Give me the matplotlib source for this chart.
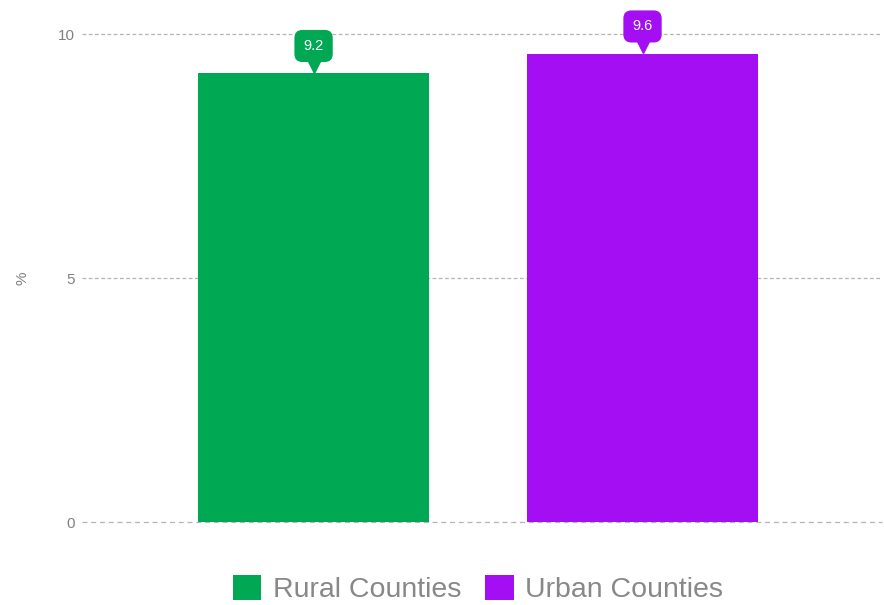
import matplotlib.pyplot as plt
from matplotlib.patches import Patch
from matplotlib.transforms import offset_copy

plt.rcParams['font.family'] = ['Liberation Sans', 'DejaVu Sans']

categories = ['Rural Counties', 'Urban Counties']
values = [9.2, 9.6]
colors = ['#00A854', '#A30EF2']
yticks = [0, 5, 10]

fig = plt.figure(figsize=(8.84, 6.05), dpi=100)
ax = fig.add_axes([82 / 884, 83 / 605, 800 / 884, 522 / 605])

x = list(range(len(categories)))
ax.bar(x, values, width=0.70, color=colors, zorder=2)

# value callouts with a little pointer
tri = offset_copy(ax.transData, fig=fig, x=0, y=4.5, units='points')
for xi, v, c in zip(x, values, colors):
    ax.annotate(f'{v}', xy=(xi, v), xytext=(0, 19.5), textcoords='offset points',
                ha='center', va='center', color='white', fontsize=10.5,
                bbox=dict(boxstyle='round,pad=0.62,rounding_size=0.55', fc=c, ec='none'),
                zorder=4)
    ax.plot([xi], [v], marker='v', markersize=8, color=c, linestyle='none',
            transform=tri, zorder=3, clip_on=False)

for t in yticks:
    ax.axhline(t, color='#b4b4b4', linewidth=0.9,
               linestyle=(0, (3, 2)) if t else (0, (4, 3)), zorder=1, clip_on=False)

ax.set_xlim(-0.704, 1.728)
ax.set_ylim(0, 10.697)
ax.set_yticks(yticks)
ax.set_yticklabels([str(t) for t in yticks], color='#808080', fontsize=11)
ax.tick_params(axis='y', length=0, pad=5)
ax.set_xticks([])
for s in ax.spines.values():
    s.set_visible(False)
ax.set_ylabel('%', color='#808080', fontsize=11)
ax.yaxis.set_label_coords(-0.066, 0.467)

handles = [Patch(facecolor=c, edgecolor='none') for c in colors]
fig.legend(handles, categories, loc='center', bbox_to_anchor=(478 / 884, 1 - 589 / 605),
           ncol=2, frameon=False, fontsize=20.5, labelcolor='#888888',
           handlelength=1.0, handleheight=1.0, handletextpad=0.4, columnspacing=0.85,
           borderpad=0.2)

fig.savefig('out.png', dpi=100)
